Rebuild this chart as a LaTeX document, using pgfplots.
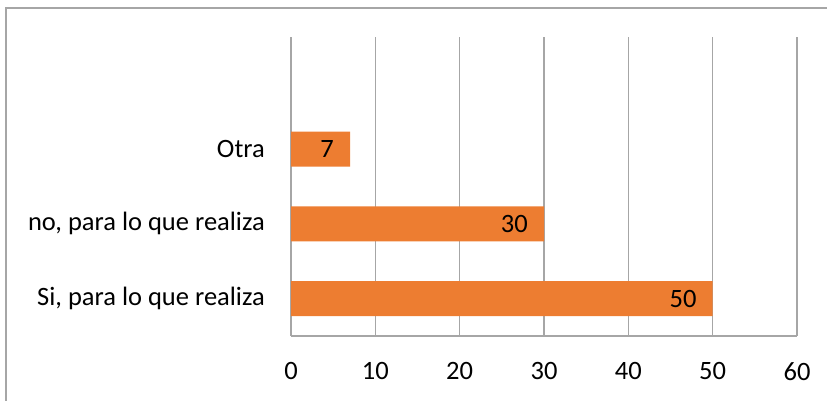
\documentclass[border=0pt]{standalone}
\usepackage{pgfplots}
\pgfplotsset{compat=1.18}
\usepackage{fontspec}
\setmainfont{Carlito}
\definecolor{barorange}{HTML}{ED7D31}
\definecolor{gridgray}{HTML}{A6A6A6}
\begin{document}
\begin{tikzpicture}[x=1pt,y=1pt]
\useasboundingbox (0,0) rectangle (827,401);
\draw[gridgray, line width=1.2pt] (6,-10) -- (6,393) -- (840,393);
\begin{axis}[
  at={(291pt,65pt)}, anchor=south west,
  scale only axis, width=506pt, height=299pt,
  xbar, bar width=0.47,
  xmin=0, xmax=60, ymin=-0.5, ymax=3.5,
  xtick={0,10,...,60},
  ytick={0,1,2},
  yticklabels={{Si, para lo que realiza},{no, para lo que realiza},{Otra}},
  axis lines*=left,
  x axis line style={gridgray, line width=1.2pt, -},
  y axis line style={draw=none},
  xmajorgrids, grid style={gridgray, line width=1.2pt},
  major tick length=0pt,
  /pgf/number format/assume math mode=true,
  xticklabel style={font=\fontsize{26.5}{30}\selectfont, yshift=-23pt},
  yticklabel style={font=\fontsize{26.5}{30}\selectfont, anchor=east, inner sep=0pt, xshift=-26pt},
  nodes near coords,
  nodes near coords style={anchor=east, inner sep=0pt, xshift=-16pt, font=\fontsize{26.5}{30}\selectfont, text=black},
  clip=false,
]
\addplot[fill=barorange, draw=none] coordinates {(50,0) (30,1) (7,2)};
\end{axis}
\end{tikzpicture}
\end{document}
